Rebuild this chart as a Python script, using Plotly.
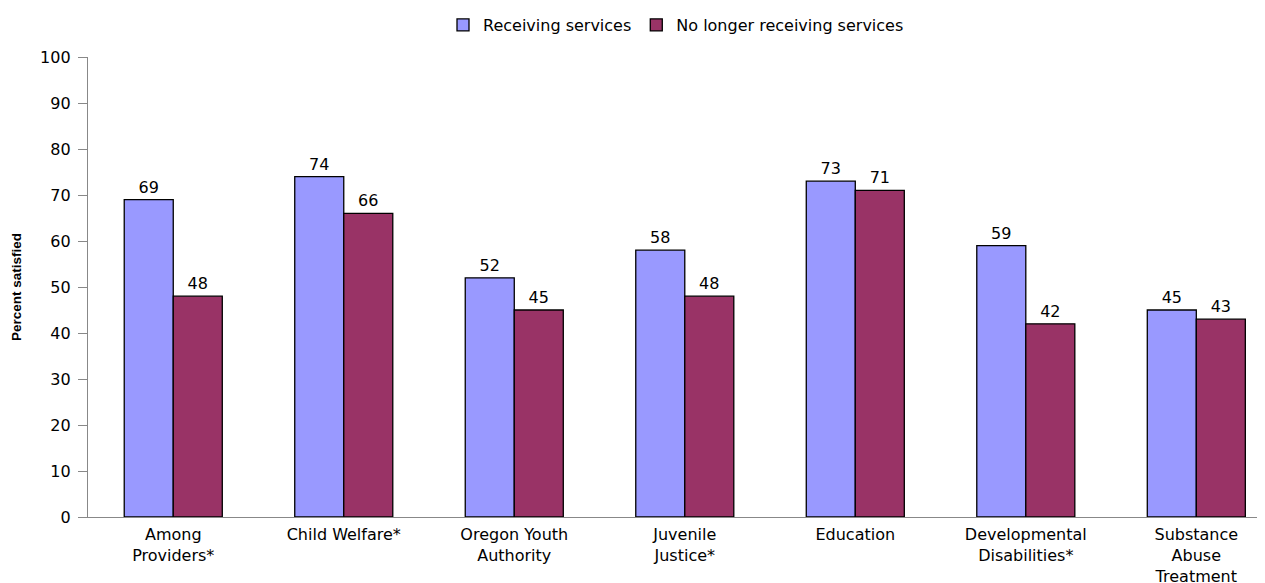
import plotly.graph_objects as go

categories = ["Among<br>Providers*", "Child Welfare*", "Oregon Youth<br>Authority",
              "Juvenile<br>Justice*", "Education", "Developmental<br>Disabilities*",
              "Substance<br>Abuse<br>Treatment"]
receiving = [69, 74, 52, 58, 73, 59, 45]
no_longer = [48, 66, 45, 48, 71, 42, 43]
y_ticks = [0, 10, 20, 30, 40, 50, 60, 70, 80, 90, 100]

font_main = "DejaVu Sans, Arial, sans-serif"

fig = go.Figure()
fig.add_trace(go.Bar(name="Receiving services", x=categories, y=receiving,
                     marker=dict(color="#9999FF", line=dict(color="black", width=1.3)),
                     text=receiving, textposition="outside", cliponaxis=False,
                     textfont=dict(size=16, color="black", family=font_main)))
fig.add_trace(go.Bar(name="No longer receiving services", x=categories, y=no_longer,
                     marker=dict(color="#993366", line=dict(color="black", width=1.3)),
                     text=no_longer, textposition="outside", cliponaxis=False,
                     textfont=dict(size=16, color="black", family=font_main)))

# page has an 8px body margin: plot area spans x 88..1264, y 57..517 on screen
fig.update_layout(
    width=1257, height=575,
    margin=dict(l=80, r=1, t=49, b=66, autoexpand=False),
    paper_bgcolor="white", plot_bgcolor="white",
    barmode="group", bargap=0.425, bargroupgap=0,
    font=dict(family=font_main, size=16, color="black"),
    legend=dict(orientation="h", x=0.5, xanchor="center", y=1.0, yanchor="top",
                yref="container", font=dict(size=16), itemwidth=30,
                traceorder="normal", tracegroupgap=0),
    showlegend=True,
)
# the reference's category axis runs past the right edge of the picture
fig.update_xaxes(showline=True, linecolor="#888888", linewidth=1.3, ticks="",
                 tickfont=dict(size=16), showgrid=False, ticklabelstandoff=3,
                 range=[-0.5, 6.397])
fig.update_yaxes(range=[0, 100], tickvals=y_ticks, showline=True, linecolor="#888888",
                 linewidth=1.3, ticks="outside", ticklen=9, tickcolor="#888888",
                 showgrid=False, zeroline=False, tickfont=dict(size=16),
                 ticklabelstandoff=4,
                 title=dict(text="<b>Percent satisfied</b>",
                            font=dict(family="Liberation Sans Narrow, Arial Narrow, sans-serif", size=13.5),
                            standoff=15))

fig.write_html("out.html")
